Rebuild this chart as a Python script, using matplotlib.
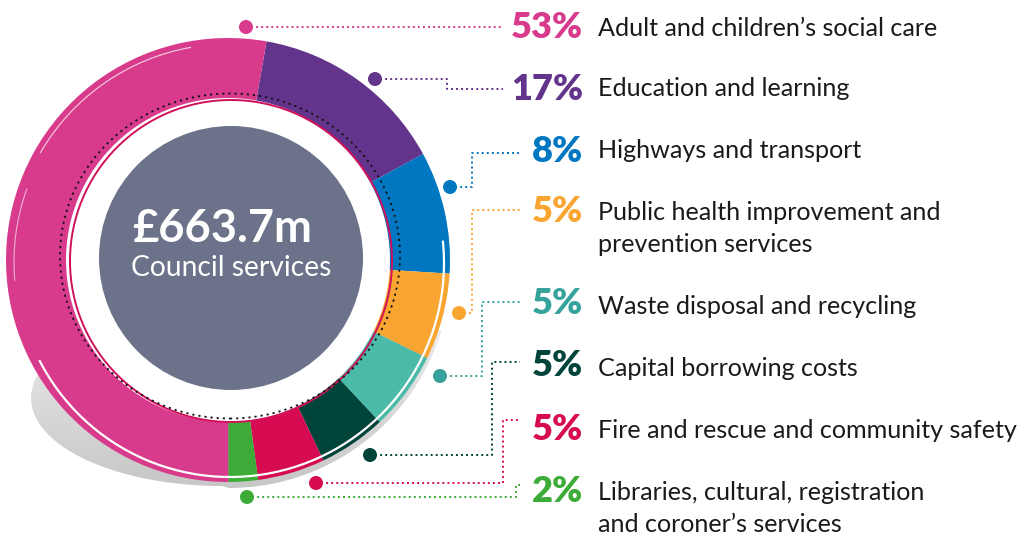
import numpy as np
import matplotlib
matplotlib.use("Agg")
import matplotlib.pyplot as plt
from matplotlib.patches import Circle, Ellipse, Arc, Polygon
from matplotlib.colors import LinearSegmentedColormap

# ---------------- data ----------------
categories = [
    "Education and learning",
    "Highways and transport",
    "Public health improvement and\nprevention services",
    "Waste disposal and recycling",
    "Capital borrowing costs",
    "Fire and rescue and community safety",
    "Libraries, cultural, registration\nand coroner\u2019s services",
    "Adult and children\u2019s social care",
]
percent_labels = ["17%", "8%", "5%", "5%", "5%", "5%", "2%", "53%"]
# share of the ring each segment occupies as drawn in the picture (%)
arc_share = [14.3, 8.9, 6.3, 5.75, 4.9, 4.9, 2.15, 52.8]
total_value = "\u00a3663.7m"
total_caption = "Council services"

# ---------------- style ----------------
ring_colors = ["#62348b", "#0077c0", "#f8a532", "#4bbaa9",
               "#00443a", "#d60b52", "#3dab37", "#d83a8c"]
accent_colors = ["#62348b", "#0077c0", "#f8a532", "#35a39b",
                 "#00443a", "#d60b52", "#3dab37", "#d83a8c"]

W, H = 1035, 536
fig = plt.figure(figsize=(W / 100, H / 100), dpi=100)
ax = fig.add_axes([0, 0, 1, 1])

def P(x, y):
    return (x, H - y)

cx, cy = P(228, 260)
R_out, R_w = 222, 60

# floor shadow: flat ellipse on the left, ring outline shifted down on the right
t_left = np.radians(np.linspace(90, 270, 90))
ex, ey = P(222, 398)
left_pts = np.column_stack([ex + 191 * np.cos(t_left), ey + 88 * np.sin(t_left)])
t_right = np.radians(np.linspace(-90, 0, 60))
sx, sy = P(229, 266)
right_pts = np.column_stack([sx + 222 * np.cos(t_right), sy + 222 * np.sin(t_right)])
sh = Polygon(np.vstack([left_pts, right_pts]), closed=True,
             facecolor="none", edgecolor="none", zorder=1)
ax.add_patch(sh)
grad = np.linspace(0, 1, 256).reshape(-1, 1)
cmap = LinearSegmentedColormap.from_list("sh", ["#c6c6c6", "#ebebeb"])
im = ax.imshow(grad, cmap=cmap, extent=(25, 455, H - 490, H - 330),
               origin="lower", aspect="auto", zorder=1)
im.set_clip_path(sh)
# white interior of the ring
ax.add_patch(Circle((cx, cy), R_out - R_w + 1, facecolor="white", edgecolor="none", zorder=1.5))

# ring
wedges, _ = ax.pie(arc_share, colors=ring_colors, startangle=80, counterclock=False,
                   radius=R_out, center=(cx, cy),
                   wedgeprops=dict(width=R_w, linewidth=0))
for w in wedges:
    w.set_zorder(2)

# white highlight arcs on ring
ax.add_patch(Arc(P(230, 263), 428, 428, theta1=207, theta2=366,
                 color="white", lw=1.6, zorder=3))
ax.add_patch(Arc(P(229, 262), 436, 436, theta1=100, theta2=150,
                 color="white", lw=0.9, alpha=0.7, zorder=3))
ax.add_patch(Arc(P(229, 262), 430, 430, theta1=160, theta2=185,
                 color="white", lw=0.8, alpha=0.6, zorder=3))

# crimson inner line
ax.add_patch(Circle(P(231, 261), 161, facecolor="none", edgecolor="#d0105a",
                    lw=1.4, zorder=3))
# dotted black circle
ax.add_patch(Ellipse(P(230, 256), 340, 325, facecolor="none", edgecolor="#111111",
                     lw=1.3, ls=(0, (1.2, 2.2)), zorder=4))

# centre disc
ax.add_patch(Circle(P(231, 258), 132, facecolor="#6b7289", edgecolor="none", zorder=5))
ax.text(*P(222, 229), total_value, color="white", fontsize=32.5, fontweight="bold",
        ha="center", va="center", family="Lato", zorder=6)
ax.text(*P(231, 268), total_caption, color="white", fontsize=20.3,
        ha="center", va="center", family="Lato", zorder=6)

# leader lines (image coords) and dots
leader_paths = [
    [(375, 79), (447, 79), (447, 89), (503, 89)],
    [(450, 187), (472, 187), (472, 153), (519, 153)],
    [(459, 313), (472, 313), (472, 210), (520, 210)],
    [(440, 376), (482, 376), (482, 302), (520, 302)],
    [(370, 455), (492, 455), (492, 362), (520, 362)],
    [(316, 483), (503, 483), (503, 420), (520, 420)],
    [(247, 497), (516, 497), (516, 485), (523, 485)],
    [(246, 27), (503, 27)],
]
for path, col in zip(leader_paths, accent_colors):
    xs = [p[0] for p in path]
    ys = [H - p[1] for p in path]
    ax.plot(xs, ys, color=col, lw=1.4, ls=(0, (1, 1.6)), zorder=6,
            solid_capstyle="butt", dash_capstyle="butt")
    ax.add_patch(Circle((xs[0], ys[0]), 7, facecolor=col, edgecolor="none", zorder=7))

# labels
pct_y = [89, 151, 211, 303, 366, 429, 491, 28]
lab_y = [89, 151, 212, 306, 368, 430, 492, 28]
for lab, pct, col, py, ly in zip(categories, percent_labels, accent_colors, pct_y, lab_y):
    ax.text(583, H - py, pct, color=col, fontsize=26, fontweight="heavy",
            ha="right", va="center", family="Lato")
    lines = lab.split("\n")
    for i, line in enumerate(lines):
        ax.text(598, H - (ly + 33 * i), line, color="#1a1a1a", fontsize=18.1,
                ha="left", va="center", family="Lato")

ax.set_xlim(0, W)
ax.set_ylim(0, H)
ax.set_aspect("equal")
ax.axis("off")
fig.savefig("out.png", dpi=100, facecolor="white")
